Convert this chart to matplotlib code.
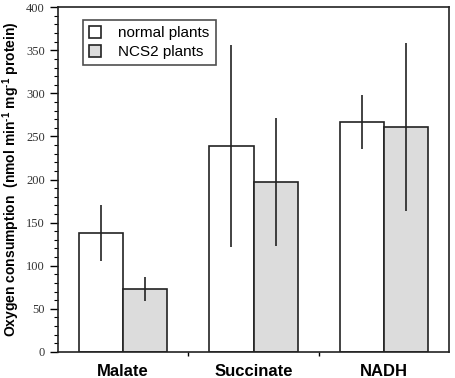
import numpy as np
import matplotlib.pyplot as plt
from matplotlib.ticker import MultipleLocator

substrates = ['Malate', 'Succinate', 'NADH']
normal = [138, 239, 267]
normal_err = [32, 117, 31]
ncs2 = [73, 197, 261]
ncs2_err = [14, 74, 98]

plt.rcParams['mathtext.fontset'] = 'custom'
plt.rcParams['mathtext.rm'] = 'Liberation Sans:bold'
plt.rcParams['mathtext.default'] = 'rm'

fig = plt.figure(figsize=(4.56, 3.78), dpi=100)
ax = fig.add_axes([0.127, 0.069, 0.858, 0.912])

x = np.arange(len(substrates)) + 0.5
w = 0.34
ax.bar(x - w / 2, normal, w, color='white', edgecolor='#222222', linewidth=1.2,
       label='normal plants', zorder=2)
ax.bar(x + w / 2, ncs2, w, color='#dcdcdc', edgecolor='#222222', linewidth=1.2,
       label='NCS2 plants', zorder=2)
ax.errorbar(x - w / 2, normal, yerr=normal_err, fmt='none', ecolor='#222222',
            elinewidth=1.2, capsize=0, zorder=3)
ax.errorbar(x + w / 2, ncs2, yerr=ncs2_err, fmt='none', ecolor='#222222',
            elinewidth=1.2, capsize=0, zorder=3)

ax.set_xlim(0, 3)
ax.set_ylim(0, 400)
ax.set_xticks([1, 2])
ax.set_xticklabels([])
ax.tick_params(axis='x', length=3, width=1, direction='out')
for xi, name in zip(x, substrates):
    ax.text(xi, -14, name, ha='center', va='top', fontsize=12, fontweight='bold',
            family='Liberation Sans', clip_on=False)

ax.yaxis.set_major_locator(MultipleLocator(50))
ax.yaxis.set_minor_locator(MultipleLocator(10))
ax.tick_params(axis='y', which='major', length=6, width=1, direction='out', labelsize=9)
ax.tick_params(axis='y', which='minor', length=3, width=0.8, direction='out')
for lab in ax.get_yticklabels():
    lab.set_family('Liberation Serif')
    lab.set_color('#333333')

for s in ax.spines.values():
    s.set_linewidth(1.2)
    s.set_color('#222222')

ax.set_ylabel('Oxygen consumption  (nmol min$^{\\text{-1}}$ mg$^{\\text{-1}}$ protein)',
              fontsize=10, fontweight='bold', family='Liberation Sans', labelpad=3)

leg = ax.legend(loc='upper left', bbox_to_anchor=(0.045, 0.985), frameon=True,
                fancybox=False, edgecolor='#222222',
                prop={'family': 'Liberation Sans', 'size': 11},
                handlelength=0.8, handleheight=0.8, handletextpad=1.1,
                borderpad=0.4, labelspacing=0.3)
leg.get_frame().set_linewidth(1.2)

fig.savefig('out.png', dpi=100)
